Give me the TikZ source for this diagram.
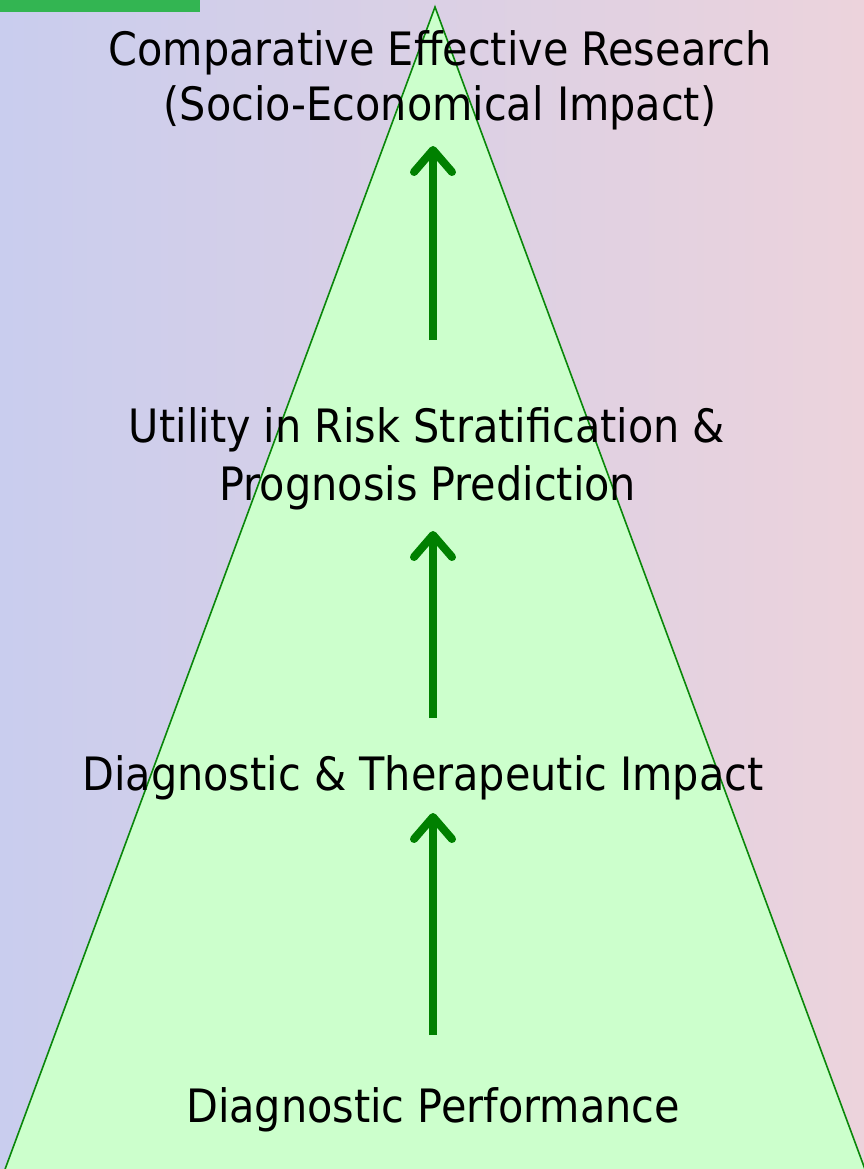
\documentclass[tikz,border=0pt]{standalone}
\usepackage{fontspec}
\setmainfont{DejaVu Sans Condensed}
\usetikzlibrary{arrows.meta,fadings}
\definecolor{bgL}{HTML}{C9CDEE}
\definecolor{bgM}{HTML}{D2CDEE}
\definecolor{bgR}{HTML}{ECD3DC}
\definecolor{tri}{HTML}{CCFFCC}
\definecolor{triedge}{HTML}{0A870A}
\definecolor{arr}{HTML}{008000}
\definecolor{tab}{HTML}{33B552}
\tikzfading[name=bandfade, left color=transparent!100, middle color=transparent!0, right color=transparent!100]
\tikzset{
  lbl/.style={font=\fontsize{46}{56}\selectfont, inner sep=0pt, anchor=base, text=black},
  uparrow/.style={draw=arr, line width=8pt, -{Straight Barb[length=22pt,width=38pt,line width=8pt,round]}},
}
\begin{document}
\begin{tikzpicture}[x=1pt,y=-1pt]
\useasboundingbox (0,0) rectangle (864,1169);
% background
\shade[left color=bgL, middle color=bgM, right color=bgR] (0,0) rectangle (864,1169);
\fill[white, opacity=0.35, path fading=bandfade] (640,300) rectangle (740,1169);
% green tab
\fill[tab] (0,0) rectangle (200,12);
% pyramid
\draw[fill=tri, draw=triedge, line width=1.6pt, line join=miter] (435,7) -- (866,1172) -- (4,1172) -- cycle;
% labels
\node[lbl] (t1a) at (440,66) {Comparative Effective Research};
\node[lbl] (t1b) at (440,121) {(Socio-Economical Impact)};
\node[lbl] (t2a) at (427,442) {Utility in Risk Stratification \&};
\node[lbl] (t2b) at (428,500) {Prognosis Prediction};
\node[lbl] (t3) at (423,790) {Diagnostic \& Therapeutic Impact};
\node[lbl] (t4) at (433,1122) {Diagnostic Performance};
% arrow endpoints
\coordinate (a1s) at (433,340);
\coordinate (a1e) at (433,146);
\coordinate (a2s) at (433,718);
\coordinate (a2e) at (433,531);
\coordinate (a3s) at (433,1035);
\coordinate (a3e) at (433,813);
\draw[uparrow] (a1s) -- (a1e);
\draw[uparrow] (a2s) -- (a2e);
\draw[uparrow] (a3s) -- (a3e);
\end{tikzpicture}
\end{document}
